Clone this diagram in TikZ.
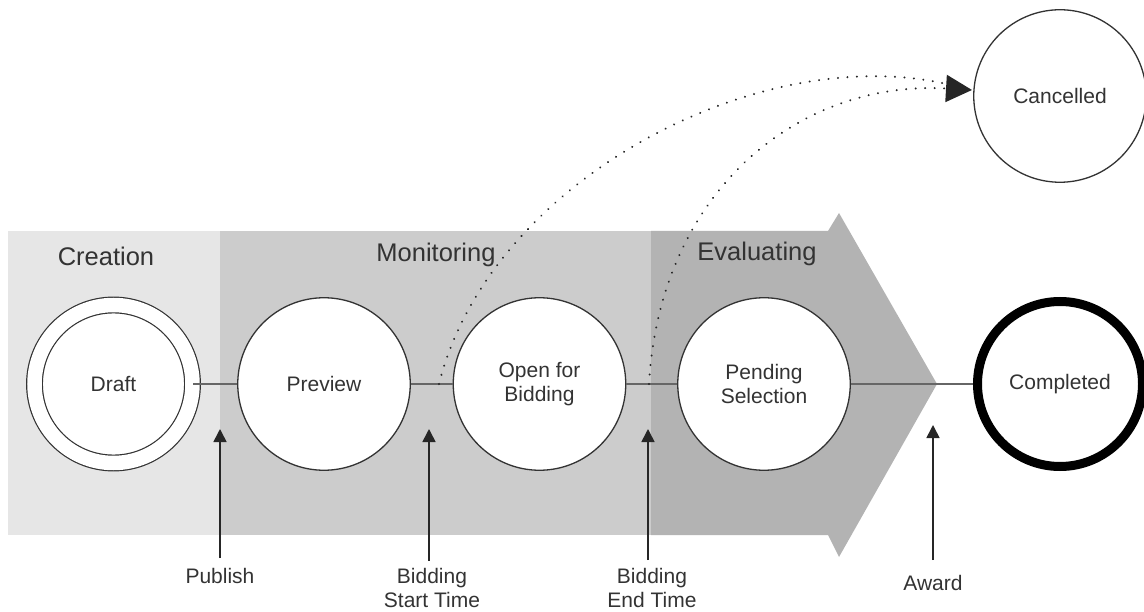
\documentclass[tikz,border=0pt]{standalone}
\usepackage{fontspec}
\setmainfont{Liberation Sans}
\usetikzlibrary{arrows.meta}
\definecolor{cre}{HTML}{E6E6E6}
\definecolor{mon}{HTML}{CCCCCC}
\definecolor{eva}{HTML}{B3B3B3}
\definecolor{ink}{HTML}{333333}
\definecolor{linkc}{HTML}{666666}
\begin{document}
\begin{tikzpicture}[x=1pt,y=-1pt,
  state/.style={circle, draw=ink, line width=1.3pt, fill=white, minimum size=172.5pt,
    inner sep=0pt, align=center, font=\fontsize{21}{24}\selectfont, text=ink},
  phase/.style={font=\fontsize{25.5}{30}\selectfont, text=ink, inner sep=0pt},
  evlabel/.style={anchor=north, inner sep=0pt, align=center,
    font=\fontsize{21}{24}\selectfont, text=ink},
  link/.style={draw=linkc, line width=2pt},
  trig/.style={draw=black!85, line width=1.6pt, -{Triangle[length=13pt,width=13pt]}},
  cancelpath/.style={draw=black!85, line width=2.2pt, line cap=round, dash pattern=on 0.01pt off 9.5pt}]
\useasboundingbox (0,0) rectangle (1144,612);
% phases
\fill[cre] (8,231) rectangle (220,535);
\fill[mon] (220,231) rectangle (651,535);
\fill[eva] (651,231) -- (828,231) -- (839,213) -- (937,384) -- (839,557) -- (828,535) -- (651,535) -- cycle;
\node[phase] (lcre) at (106,256) {Creation};
\node[phase] (lmon) at (436,255) {Monitoring};
\node[phase] (leva) at (757,254) {Evaluating};
% states
\node[state, double=white, double distance=14.5pt, line width=1.2pt, minimum size=158pt] (draft) at (113.5,384) {Draft};
\node[state] (prev) at (324,384) {Preview};
\node[state] (open) at (539.5,384) {Open for\\Bidding};
\node[state] (pend) at (764,384) {Pending\\Selection};
\node[state, draw=black, line width=9pt, minimum size=165pt] (comp) at (1060,384) {Completed};
\node[state] (canc) at (1060,96) {Cancelled};
% links
\draw[link] (draft.east) -- (prev.west);
\draw[link] (prev.east) -- (open.west);
\draw[link] (open.east) -- (pend.west);
\draw[link] (pend.east) -- (comp.west);
% cancellation paths
\coordinate (s1) at (439,384);
\coordinate (s2) at (649,384);
\coordinate (ctip) at (972,90);
\draw[cancelpath, shorten >=24pt] (s1) .. controls (490,180) and (760,40) .. (ctip);
\draw[cancelpath, -{Triangle[length=26pt,width=27pt]}] (s2) .. controls (660,190) and (800,80) .. (ctip);
% triggers
\node[evlabel] (lpub) at (220,568.5) {Publish};
\node[evlabel] (lbst) at (432,568.5) {Bidding\\Start Time};
\node[evlabel] (lbet) at (652,568.5) {Bidding\\End Time};
\node[evlabel] (lawd) at (933,575) {Award};
\coordinate (tpub) at (220,429);
\coordinate (tbst) at (429,429);
\coordinate (tbet) at (648,429);
\coordinate (tawd) at (933,425);
\draw[trig, shorten <=10.5pt] (lpub.north) -- (tpub);
\draw[trig, shorten <=8pt] (tbst |- lbst.north) -- (tbst);
\draw[trig, shorten <=8.5pt] (tbet |- lbet.north) -- (tbet);
\draw[trig, shorten <=15pt] (lawd.north) -- (tawd);
\end{tikzpicture}
\end{document}
